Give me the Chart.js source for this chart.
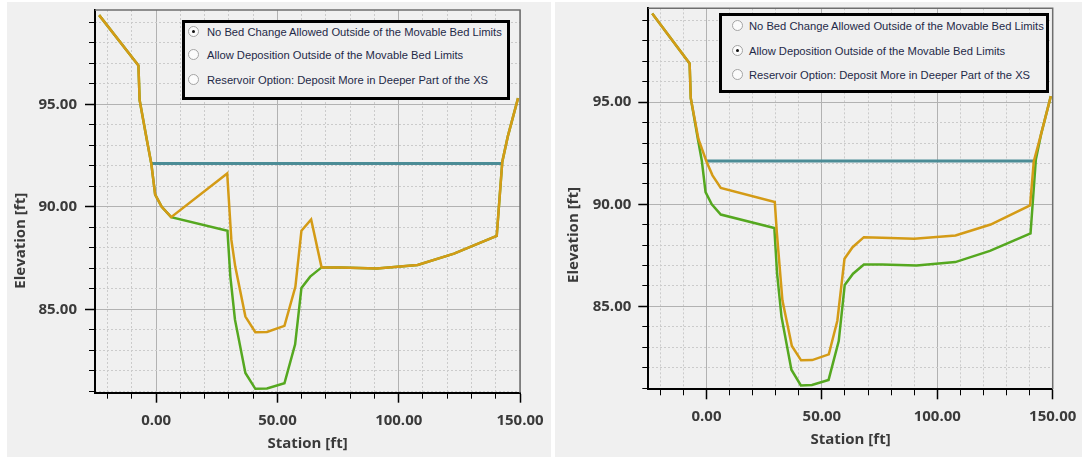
<!DOCTYPE html>
<html>
<head>
<meta charset="utf-8">
<script src="https://cdn.jsdelivr.net/npm/chart.js@4.4.1/dist/chart.umd.min.js"></script>
<style>
  body { margin: 0; background: #fff; width: 1082px; height: 458px; position: relative; overflow: hidden; }
  .panel { position: absolute; top: 2px; height: 455px; background: #f0f0f0; }
  #p1 { left: 7px; width: 544px; }
  #p2 { left: 555px; width: 527px; }
  .panel canvas { position: absolute; left: 0; top: 0; }
  .opts { position: absolute; border: 3px solid #000; background: #f0f0f0; box-sizing: border-box;
          font: 11.2px "Liberation Sans", Arial, sans-serif; color: #1f2a48; }
  .opt { position: absolute; height: 14px; line-height: 14px; white-space: nowrap; }
  .radio { position: absolute; width: 11px; height: 11px; border-radius: 50%; box-sizing: border-box;
           border: 1px solid #a4a4a4; background: #fbfbfb; }
  .radio.on::after { content: ""; position: absolute; left: 3px; top: 3px; width: 3px; height: 3px;
                     border-radius: 50%; background: #111; }
</style>
</head>
<body>
<div class="panel" id="p1">
  <canvas id="c1" width="544" height="455"></canvas>
  <div class="opts" id="o1" style="left:175px; top:18px; width:328px; height:80px;"></div>
</div>
<div class="panel" id="p2">
  <canvas id="c2" width="527" height="455"></canvas>
  <div class="opts" id="o2" style="left:164px; top:11px; width:330px; height:80px;"></div>
</div>
<script>
// axis ranges
const xMin = -25.2, xMax = 150;
const yMin = 80.94, yMax = 99.6;

// original bed (green)
const bedStation = [-23.5, -7.3, -6.8, -3.8, -2.0, -0.4, 2.3, 6.2, 29.4, 30.6, 32.5, 36.8, 40.9, 45.7, 52.9, 57.3, 59.9, 63.5, 68.2, 76, 91, 107.8, 122.8, 140.4, 142.7, 145, 149.2];
const bedElev    = [99.35, 96.9, 95.2, 93.25, 92.12, 90.6, 90.0, 89.5, 88.84, 86.6, 84.5, 81.9, 81.13, 81.15, 81.4, 83.3, 86.05, 86.6, 87.05, 87.05, 87.0, 87.17, 87.72, 88.58, 92.2, 93.45, 95.3];

// "No Bed Change Allowed Outside" result (orange, left)
const noChangeStation = [-23.5, -7.3, -6.8, -3.8, -2.0, -0.4, 2.3, 6.2, 29.3, 31.0, 32.6, 36.8, 40.9, 45.7, 52.9, 57.4, 59.9, 63.9, 68.2, 76, 91, 107.8, 122.8, 140.4, 142.7, 145, 149.2];
const noChangeElev    = [99.35, 96.9, 95.2, 93.25, 92.12, 90.6, 90.0, 89.5, 91.63, 88.4, 87.1, 84.65, 83.89, 83.9, 84.2, 86.1, 88.84, 89.39, 87.05, 87.05, 87.0, 87.17, 87.72, 88.58, 92.2, 93.45, 95.3];

// "Allow Deposition Outside" result (orange, right)
const depositStation = [-23.5, -7.3, -6.8, -3.5, 0.0, 2.6, 6.2, 29.6, 30.5, 32.9, 37.0, 41.0, 45.8, 53.0, 56.7, 59.8, 63.3, 68.2, 76, 90, 107.9, 123.1, 140.2, 141.8, 145, 149.2];
const depositElev    = [99.35, 96.9, 95.2, 93.2, 92.1, 91.42, 90.8, 90.11, 88.6, 85.3, 83.06, 82.36, 82.37, 82.65, 84.3, 87.33, 87.9, 88.39, 88.36, 88.31, 88.47, 89.01, 89.95, 92.1, 93.45, 95.3];

// water surface
const ws1Station = [-1.8, 142.4];
const ws2Station = [0.0, 141.8];
const wsElev = [92.12, 92.12];

const optionLabels = [
  "No Bed Change Allowed Outside of the Movable Bed Limits",
  "Allow Deposition Outside of the Movable Bed Limits",
  "Reservoir Option: Deposit More in Deeper Part of the XS"
];

function toPoints(xs, ys) {
  return xs.map((x, i) => ({ x: x, y: ys[i] }));
}

// builds the radio button box over a chart
function renderOptions(boxId, selected, radioLeft, textLeft, rowTops) {
  const box = document.getElementById(boxId);
  optionLabels.forEach((label, i) => {
    const row = document.createElement("div");
    row.className = "opt";
    row.style.top = rowTops[i] + "px";
    row.style.left = "0px";
    row.innerHTML = `<span class="radio ${i === selected ? "on" : ""}" style="left:${radioLeft}px; top:1px;"></span>` +
                    `<span style="position:absolute; left:${textLeft}px;">${label}</span>`;
    box.appendChild(row);
  });
}

const tickFont = { family: "'Open Sans'", size: 15, weight: "bold" };

function makeChart(id, orangeData, wsStation, d) {
  const ctx = document.getElementById(id).getContext("2d");

  const frame = {
    id: "frame",
    beforeDatasetsDraw(chart) {
      const a = chart.chartArea, c = chart.ctx;
      c.save();
      c.strokeStyle = "#6e6e6e";
      c.lineWidth = 1.5;
      c.beginPath();
      c.moveTo(a.left, a.top);
      c.lineTo(a.right, a.top);
      c.lineTo(a.right, a.bottom);
      c.stroke();
      c.restore();
    },
    afterDraw(chart) {
      const c = chart.ctx;
      c.save();
      c.translate(d.yTitleX, d.yTitleY);
      c.rotate(-Math.PI / 2);
      c.font = "bold 15px 'Open Sans'";
      c.fillStyle = "#3a3a3a";
      c.textAlign = "center";
      c.textBaseline = "middle";
      c.fillText("Elevation [ft]", 0, 0);
      c.restore();
    }
  };

  return new Chart(ctx, {
    type: "scatter",
    data: {
      datasets: [
        { data: orangeData, borderColor: "#d49b16", borderWidth: 2.5 },
        { data: toPoints(bedStation, bedElev), borderColor: "#55a820", borderWidth: 2.5 },
        { data: toPoints(wsStation, wsElev), borderColor: "#4b8c96", borderWidth: 3 }
      ]
    },
    options: {
      responsive: false,
      animation: false,
      devicePixelRatio: 1,
      showLine: true,
      elements: { point: { radius: 0, hoverRadius: 0 }, line: { tension: 0 } },
      layout: { padding: { top: d.padTop, right: d.padRight, left: 0, bottom: 0 } },
      plugins: { legend: { display: false }, tooltip: { enabled: false } },
      scales: {
        x: {
          type: "linear", position: "bottom", weight: 1, min: xMin, max: xMax,
          ticks: { stepSize: 50, includeBounds: false, maxRotation: 0, autoSkip: false,
                   callback: v => v.toFixed(2), font: tickFont, color: "#3a3a3a", padding: d.xPad },
          grid: { color: "#b2b2b2", tickLength: 10, tickColor: "#000", tickWidth: 1.5 },
          border: { color: "#000", width: 2 },
          title: { display: true, text: "Station [ft]", font: tickFont, color: "#3a3a3a",
                   padding: { top: 0, bottom: d.titleBottom } },
          afterFit: s => { s.height = d.xHeight; s.paddingLeft = 0; s.paddingRight = 0; s.paddingTop = 0; s.paddingBottom = 0; }
        },
        xm: {
          type: "linear", position: "bottom", weight: 0, min: xMin, max: xMax,
          ticks: { stepSize: 10, includeBounds: false, display: false },
          grid: { color: c => c.tick && c.tick.value % 50 === 0 ? "rgba(0,0,0,0)" : "#cbcbcb",
                  tickLength: 6, tickColor: "#000", tickWidth: 1 },
          border: { display: false, dash: [2, 2] },
          afterFit: s => { s.height = 0; s.paddingLeft = 0; s.paddingRight = 0; s.paddingTop = 0; s.paddingBottom = 0; }
        },
        y: {
          type: "linear", position: "left", weight: 1, min: yMin, max: yMax,
          ticks: { stepSize: 5, includeBounds: false, callback: v => v.toFixed(2),
                   font: tickFont, color: "#3a3a3a", padding: d.yPad },
          grid: { color: "#b2b2b2", tickLength: 10, tickColor: "#000", tickWidth: 1.5 },
          border: { color: "#000", width: 2 },
          afterFit: s => { s.width = d.yWidth; s.paddingLeft = 0; s.paddingRight = 0; s.paddingTop = 0; s.paddingBottom = 0; }
        },
        ym: {
          type: "linear", position: "left", weight: 0, min: yMin, max: yMax,
          ticks: { stepSize: 1, includeBounds: false, display: false },
          grid: { color: c => c.tick && c.tick.value % 5 === 0 ? "rgba(0,0,0,0)" : "#cbcbcb",
                  tickLength: 6, tickColor: "#000", tickWidth: 1 },
          border: { display: false, dash: [2, 2] },
          afterFit: s => { s.width = 0; s.paddingLeft = 0; s.paddingRight = 0; s.paddingTop = 0; s.paddingBottom = 0; }
        }
      }
    },
    plugins: [frame]
  });
}

makeChart("c1", toPoints(noChangeStation, noChangeElev), ws1Station,
  { padTop: 8, padRight: 31, yWidth: 88, xHeight: 64.3, xPad: 9, yPad: 8, titleBottom: 4, yTitleX: 13.7, yTitleY: 238.8 });
makeChart("c2", toPoints(depositStation, depositElev), ws2Station,
  { padTop: 6.3, padRight: 29.3, yWidth: 93.3, xHeight: 67.7, xPad: 8, yPad: 7, titleBottom: 8, yTitleX: 19.2, yTitleY: 233 });

renderOptions("o1", 0, 3, 22, [2, 25, 50]);
renderOptions("o2", 1, 10, 27, [3, 28, 52]);
</script>
</body>
</html>
